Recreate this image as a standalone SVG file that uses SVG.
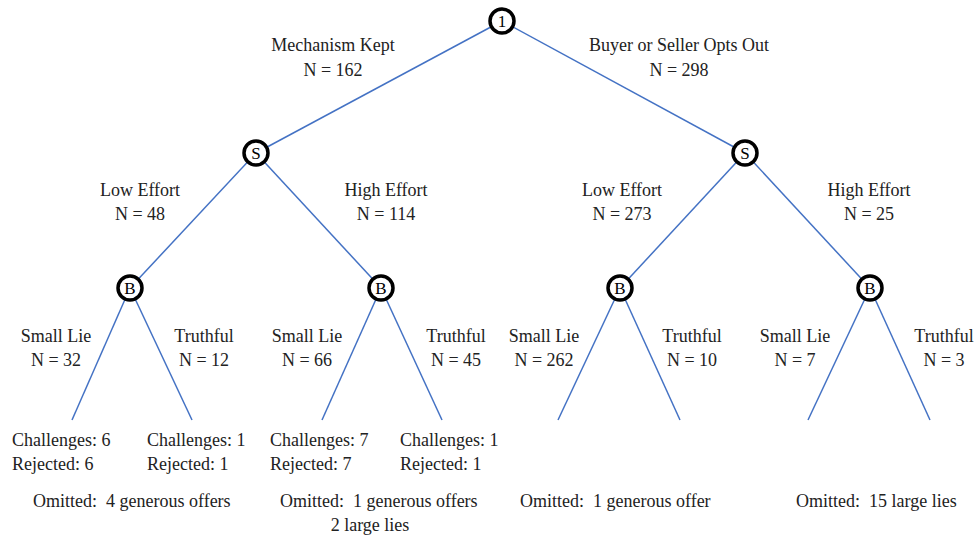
<svg xmlns="http://www.w3.org/2000/svg" width="976" height="539" viewBox="0 0 976 539">
<style>
.e{stroke:#4472C4;stroke-width:1.5;fill:none}
.n circle{fill:#fff;stroke:#000;stroke-width:3.5}
text{font-family:"Liberation Serif","Times New Roman",serif;font-size:18px;fill:#222;white-space:pre}
.c{text-anchor:middle}
.nl{font-size:17px;fill:#000}
</style>
<rect width="976" height="539" fill="#fff"/>
<g id="connectors">
<line class="e" x1="502" y1="21" x2="256" y2="153"/>
<line class="e" x1="502" y1="21" x2="745" y2="153"/>
<line class="e" x1="256" y1="153" x2="130" y2="288"/>
<line class="e" x1="256" y1="153" x2="381" y2="288"/>
<line class="e" x1="745" y1="153" x2="620" y2="288"/>
<line class="e" x1="745" y1="153" x2="870" y2="288"/>
<line class="e" x1="130" y1="288" x2="72" y2="420"/>
<line class="e" x1="130" y1="288" x2="192" y2="420"/>
<line class="e" x1="381" y1="288" x2="322" y2="420"/>
<line class="e" x1="381" y1="288" x2="442" y2="420"/>
<line class="e" x1="620" y1="288" x2="558" y2="420"/>
<line class="e" x1="620" y1="288" x2="680" y2="420"/>
<line class="e" x1="870" y1="288" x2="808" y2="420"/>
<line class="e" x1="870" y1="288" x2="930" y2="420"/>
</g>
<g id="root" class="n"><circle cx="502" cy="21" r="12"/><text class="c nl" x="502" y="27">1</text></g>
<g id="s1" class="n"><circle cx="256" cy="153" r="12"/><text class="c nl" x="256" y="159">S</text></g>
<g id="s2" class="n"><circle cx="745" cy="153" r="12"/><text class="c nl" x="745" y="159">S</text></g>
<g id="b1" class="n"><circle cx="130" cy="288" r="12"/><text class="c nl" x="130" y="294">B</text></g>
<g id="b2" class="n"><circle cx="381" cy="288" r="12"/><text class="c nl" x="381" y="294">B</text></g>
<g id="b3" class="n"><circle cx="620" cy="288" r="12"/><text class="c nl" x="620" y="294">B</text></g>
<g id="b4" class="n"><circle cx="870" cy="288" r="12"/><text class="c nl" x="870" y="294">B</text></g>
<g id="labels">
<text class="c" x="333" y="51">Mechanism Kept</text>
<text class="c" x="333" y="76">N = 162</text>
<text class="c" x="679" y="51">Buyer or Seller Opts Out</text>
<text class="c" x="679" y="76">N = 298</text>
<text class="c" x="140" y="196">Low Effort</text>
<text class="c" x="140" y="220">N = 48</text>
<text class="c" x="386" y="196">High Effort</text>
<text class="c" x="386" y="220">N = 114</text>
<text class="c" x="622" y="196">Low Effort</text>
<text class="c" x="622" y="220">N = 273</text>
<text class="c" x="869" y="196">High Effort</text>
<text class="c" x="869" y="220">N = 25</text>
<text class="c" x="56" y="342">Small Lie</text>
<text class="c" x="56" y="366">N = 32</text>
<text class="c" x="204" y="342">Truthful</text>
<text class="c" x="204" y="366">N = 12</text>
<text class="c" x="307" y="342">Small Lie</text>
<text class="c" x="307" y="366">N = 66</text>
<text class="c" x="456" y="342">Truthful</text>
<text class="c" x="456" y="366">N = 45</text>
<text class="c" x="544" y="342">Small Lie</text>
<text class="c" x="544" y="366">N = 262</text>
<text class="c" x="692" y="342">Truthful</text>
<text class="c" x="692" y="366">N = 10</text>
<text class="c" x="795" y="342">Small Lie</text>
<text class="c" x="795" y="366">N = 7</text>
<text class="c" x="944" y="342">Truthful</text>
<text class="c" x="944" y="366">N = 3</text>
</g>
<g id="leaves">
<text x="12" y="446">Challenges: 6</text>
<text x="12" y="470">Rejected: 6</text>
<text x="147" y="446">Challenges: 1</text>
<text x="147" y="470">Rejected: 1</text>
<text x="270" y="446">Challenges: 7</text>
<text x="270" y="470">Rejected: 7</text>
<text x="400" y="446">Challenges: 1</text>
<text x="400" y="470">Rejected: 1</text>
<text x="33" y="507">Omitted:  4 generous offers</text>
<text x="280" y="507">Omitted:  1 generous offers</text>
<text class="c" x="370" y="531">2 large lies</text>
<text x="520" y="507">Omitted:  1 generous offer</text>
<text x="796" y="507">Omitted:  15 large lies</text>
</g>
</svg>
